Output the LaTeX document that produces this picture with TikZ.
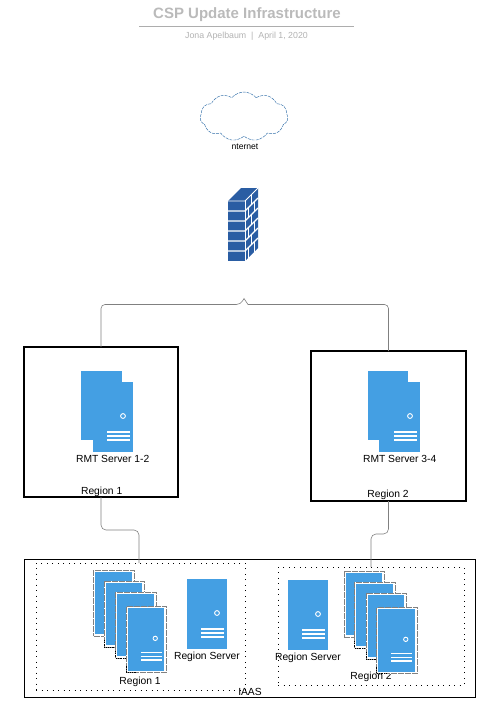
\documentclass[tikz,border=0pt]{standalone}
\usepackage{fontspec}
\setmainfont{Liberation Sans}
\usetikzlibrary{calc,positioning,shapes.symbols}
\definecolor{srvblue}{HTML}{449FE3}
\definecolor{wallblue}{HTML}{2A5DA3}
\definecolor{cloudblue}{HTML}{2F6DA8}
\tikzset{
  lbl/.style={inner sep=0pt,font=\fontsize{10.3}{12}\selectfont},
  regionbox/.style={draw=black,line width=1.6pt,inner sep=0pt,outer sep=0pt},
  zonebox/.style={draw=black,dash pattern=on 0.9pt off 4.6pt,line width=0.9pt,inner sep=0pt,outer sep=0pt},
  srv/.style={fill=srvblue,inner sep=0pt,outer sep=0pt},
  srvedge/.style={draw=black!50,fill=white,line width=0.9pt,dash pattern=on 6pt off 1pt,inner sep=0pt,outer sep=0pt,minimum width=40.5pt,minimum height=66pt},
  link/.style={draw=black!50,line width=0.6pt},
}
%Kreis und Streifen auf dem Server, von der Ecke unten rechts aus
\newcommand{\srvdetail}[2]{
  \begin{scope}[shift={(#1.south east)},scale=#2]
    \draw[white,line width=0.9pt] (-10,-36) circle (2.4);
    \foreach \up in {20,16,12}{
      \draw[white,line width=1.1pt] (-26,-\up) -- (-3,-\up);
    }
  \end{scope}
}
%Stapel aus vier Servern
\newcommand{\srvstack}[3]{
  \foreach \nr/\cx/\cy in {a/114/603,b/124.5/614,c/136/625,d/146.5/639.5}{
    \node[srvedge] (#1edge\nr) at (\cx+#2,\cy+#3) {};
    \node[srv,minimum width=36.5pt,minimum height=62.5pt] (#1\nr) at (\cx+#2-0.5,\cy+#3) {};
  }
  \foreach \nr in {b,c,d}{
    \draw[black,densely dotted,line width=0.8pt] ($(#1edge\nr.south west)+(0,-7)$) -- (#1edge\nr.south west) -- ++(10,0);
  }
  \srvdetail{#1d}{0.9}
}
\begin{document}
\begin{tikzpicture}[x=1pt,y=-1pt]
\useasboundingbox (0,0) rectangle (503,726);
%Titel
\node[inner sep=0pt,text=black!27,font=\fontsize{15}{16}\selectfont\bfseries] (title) at (247,15) {CSP Update Infrastructure};
\draw[black!32,line width=0.7pt] (139,26) coordinate (ruleL) -- (354,26) coordinate (ruleR);
\node[inner sep=0pt,text=black!30,font=\fontsize{8.8}{10}\selectfont] (byline) at (246.5,36) {Jona Apelbaum~~|~~April 1, 2020};
%Wolke
\node[cloud,cloud puffs=11,cloud puff arc=100,aspect=1.8,draw=cloudblue,line width=0.45pt,dash pattern=on 3pt off 1pt,minimum width=88pt,minimum height=49pt,inner sep=0pt,outer sep=0pt] (inet) at (244,116.5) {};
\node[lbl,font=\fontsize{8.6}{10}\selectfont] (inetlbl) at (245,146.5) {nternet};
%Firewall
\fill[wallblue] (228,201) -- (241,188) -- (258,188) -- (245,201) -- cycle;
\fill[wallblue] (245,201) -- (258,188) -- (258,248) -- (245,261) -- cycle;
\fill[wallblue] (228,201) rectangle (245,261);
\draw[white,line width=0.9pt] (228,201) -- (245,201) -- (258,188);
\draw[white,line width=0.9pt] (245,201) -- (245,261);
\foreach \k in {1,...,5}{
  \draw[white,line width=1.1pt] (228,201+10*\k) -- (245,201+10*\k) -- (258,188+10*\k);
}
\foreach \k in {0,2,4}{
  \draw[white,line width=0.8pt] (251.5,194.5+10*\k) -- (251.5,204.5+10*\k);
}
\foreach \k in {1,3,5}{
  \draw[white,line width=0.8pt] (248.5,197.5+10*\k) -- (248.5,207.5+10*\k);
  \draw[white,line width=0.8pt] (254.5,191.5+10*\k) -- (254.5,201.5+10*\k);
}
%Regionen oben
\node[regionbox,minimum width=154pt,minimum height=150pt] (boxA) at (101,422) {};
\node[regionbox,minimum width=155pt,minimum height=150pt] (boxB) at (388.5,426) {};
\node[srv,minimum width=41pt,minimum height=69pt] (rmtArear) at (101.5,405.5) {};
\node[srv,minimum width=40pt,minimum height=70pt] (rmtA) at (113,417) {};
\node[srv,minimum width=40pt,minimum height=69pt] (rmtBrear) at (388,405.5) {};
\node[srv,minimum width=41pt,minimum height=70pt] (rmtB) at (399.5,417) {};
\srvdetail{rmtA}{1}
\srvdetail{rmtB}{1}
\node[lbl] (rmtAlbl) at (112.7,459) {RMT Server 1-2};
\node[lbl] (rmtBlbl) at (399.7,459) {RMT Server 3-4};
\node[lbl] (boxAlbl) at (101.7,491.5) {Region 1};
\node[lbl] (boxBlbl) at (388,494.5) {Region 2};
\coordinate (jumpL) at (240.5,304.5);
\coordinate (jumpT) at (244,298.5);
\coordinate (jumpR) at (248,304.5);
\draw[link] (boxA.north) [rounded corners=4] |- (jumpL) [sharp corners] -- (jumpT) -- (jumpR) [rounded corners=4] -| (boxB.north);
%IAAS unten
\node[draw=black,line width=1pt,inner sep=0pt,outer sep=0pt,minimum width=451pt,minimum height=138pt] (iaas) at (249.5,628) {};
\node[zonebox,minimum width=209pt,minimum height=127pt] (zoneA) at (140.5,626.5) {};
\node[zonebox,minimum width=186pt,minimum height=118pt] (zoneB) at (371,626) {};
\node[lbl] (iaaslbl) at (250,691.5) {IAAS};
\coordinate (linkA) at (139,530);
\coordinate (linkB) at (371,534);
\draw[link,rounded corners=5] (boxA.south) |- (linkA) -- (linkA |- zoneA.north);
\draw[link,rounded corners=5] (boxB.south) |- (linkB) -- (linkB |- zoneB.north);
\node[lbl] (stackAlbl) at (140,681.5) {Region 1};
\node[lbl] (stackBlbl) at (371,676.5) {Region 2};
\srvstack{stackA}{0}{0}
\srvstack{stackB}{250.5}{1}
\node[srv,minimum width=40pt,minimum height=70pt] (regA) at (207,614) {};
\node[srv,minimum width=40pt,minimum height=70pt] (regB) at (308,615) {};
\srvdetail{regA}{1}
\srvdetail{regB}{1}
\node[lbl] (regAlbl) at (207,656.5) {Region Server};
\node[lbl] (regBlbl) at (308,657.5) {Region Server};
\end{tikzpicture}
\end{document}
